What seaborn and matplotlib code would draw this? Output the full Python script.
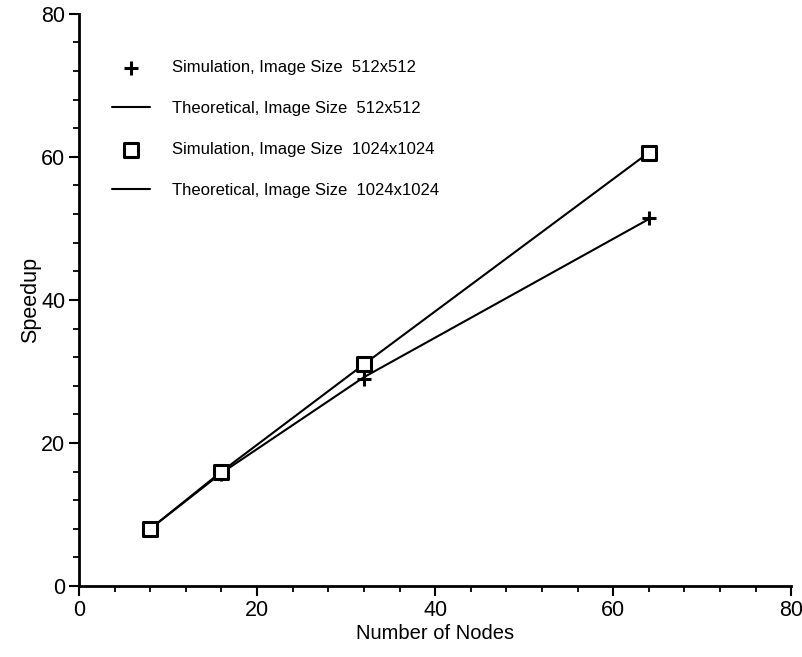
import matplotlib
matplotlib.use("Agg")
import matplotlib.pyplot as plt
import seaborn as sns
import pandas as pd
from matplotlib.ticker import MultipleLocator

nodes = [8, 16, 32, 64]
sim_512 = [8.0, 15.6, 29.0, 51.4]
theo_512 = [8.0, 15.8, 29.2, 51.3]
sim_1024 = [8.0, 16.0, 31.1, 60.6]
theo_1024 = [8.0, 16.0, 31.0, 60.6]
labels = ["Simulation, Image Size  512x512",
          "Theoretical, Image Size  512x512",
          "Simulation, Image Size  1024x1024",
          "Theoretical, Image Size  1024x1024"]

sns.set_theme(style="ticks")
plt.rcParams['font.family'] = ['Liberation Sans', 'DejaVu Sans']
plt.rcParams['text.color'] = 'black'
plt.rcParams['axes.labelcolor'] = 'black'

fig = plt.figure(figsize=(8.03, 6.57), dpi=100)
ax = fig.add_axes([0.0984, 0.108, 0.887, 0.871])

df = pd.DataFrame({"n": nodes, "s512": sim_512, "t512": theo_512,
                   "s1024": sim_1024, "t1024": theo_1024})

sns.scatterplot(data=df, x="n", y="s512", marker="+", s=110, color="black",
                linewidth=2.2, label=labels[0], ax=ax, zorder=3)
sns.lineplot(data=df, x="n", y="t512", color="black", linewidth=1.5,
             label=labels[1], ax=ax, zorder=2)
sns.scatterplot(data=df, x="n", y="s1024", marker="s", s=90, facecolor="white",
                edgecolor="black", linewidth=2.2, label=labels[2], ax=ax, zorder=4)
sns.lineplot(data=df, x="n", y="t1024", color="black", linewidth=1.5,
             label=labels[3], ax=ax, zorder=2)

ax.set_xlim(0, 80)
ax.set_ylim(0, 80)
ax.xaxis.set_major_locator(MultipleLocator(20))
ax.yaxis.set_major_locator(MultipleLocator(20))
ax.xaxis.set_minor_locator(MultipleLocator(4))
ax.yaxis.set_minor_locator(MultipleLocator(4))
sns.despine(ax=ax)
for sp in ["left", "bottom"]:
    ax.spines[sp].set_linewidth(2)
    ax.spines[sp].set_color("black")
ax.tick_params(which="major", length=7, width=1.5, colors="black", labelsize=15.5, pad=3)
ax.tick_params(which="minor", length=4, width=1.3, colors="black")

ax.set_xlabel("Number of Nodes", fontsize=14.5, labelpad=2, color="black")
ax.set_ylabel("Speedup", fontsize=15.5, labelpad=0, color="black")

handles, lbls = ax.get_legend_handles_labels()
leg = ax.legend(handles, lbls, loc="upper left", bbox_to_anchor=(0.025, 0.945),
                frameon=False, fontsize=12, labelspacing=1.55, handlelength=2.3,
                handletextpad=1.3)

fig.savefig("out.png", dpi=100)
